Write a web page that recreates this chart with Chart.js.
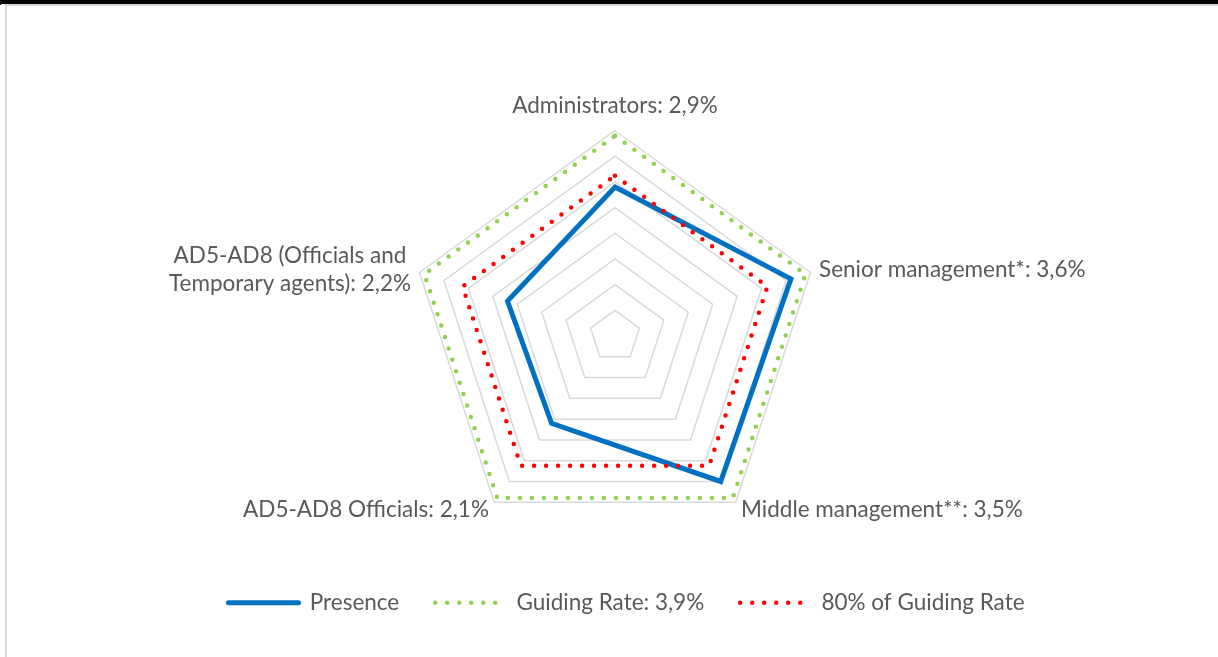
<!DOCTYPE html>
<html>
<head>
<meta charset="utf-8">
<title>Presence radar</title>
<script src="https://cdn.jsdelivr.net/npm/chart.js@4.4.1/dist/chart.umd.min.js"></script>
<style>
    html, body { margin: 0; padding: 0; background: #fff; overflow: hidden; }
    #wrap { position: relative; width: 1218px; height: 657px; overflow: hidden; }
    .frame { position: absolute; left: 5px; top: 4px; width: 1240px; height: 680px; border: 2px solid #d9d9d9; box-sizing: border-box; }
    .edge-top { position: absolute; left: 0; top: 0; width: 1218px; height: 4px; background: #000; }
    .edge-left { position: absolute; left: 0; top: 0; width: 1px; height: 5px; background: #000; }
    canvas { position: absolute; left: 0; top: 0; }
</style>
</head>
<body>
<div id="wrap">
    <div class="frame"></div>
    <div class="edge-top"></div>
    <div class="edge-left"></div>
    <canvas id="radarChart" width="1218" height="657"></canvas>
</div>
<script>
// category names, split where the label wraps; the value is appended to the last line
const categories = [
    ['Administrators'],
    ['Senior management*'],
    ['Middle management**'],
    ['AD5-AD8 Officials'],
    ['AD5-AD8 (Officials and', 'Temporary agents)']
];
const presence = [2.9, 3.6, 3.5, 2.1, 2.2];
const guidingRate = [3.9, 3.9, 3.9, 3.9, 3.9];
const guidingRate80 = [3.12, 3.12, 3.12, 3.12, 3.12];
const seriesNames = ['Presence', 'Guiding Rate: 3,9%', '80% of Guiding Rate'];
const scaleMin = 0;
const scaleMax = 4;
const scaleStep = 0.5;

// layout
const CENTER_X = 615;
const CENTER_Y = 336;
const RADIUS = 205.5;
const FONT_FAMILY = 'Lato, "Open Sans", sans-serif';
const FONT_SIZE = 22.5;
const LINE_HEIGHT = 28;
const TEXT_COLOR = '#595959';

const fmt = v => v.toFixed(1).replace('.', ',') + '%';

// draws the category labels next to each spoke
const pointLabelText = {
    id: 'pointLabelText',
    afterDraw(chart) {
        const scale = chart.scales.r;
        const ctx = chart.ctx;
        ctx.save();
        ctx.font = `${FONT_SIZE}px ${FONT_FAMILY}`;
        ctx.fillStyle = TEXT_COLOR;
        ctx.textBaseline = 'middle';
        ctx.textAlign = 'center';

        categories.forEach((cat, i) => {
            const lines = cat.slice();
            lines[lines.length - 1] += ': ' + fmt(presence[i]);
            const pos = scale.getPointPosition(i, scale.drawingArea + 9);
            const angle = scale.getIndexAngle(i);
            const blockW = Math.max(...lines.map(l => ctx.measureText(l).width));
            const blockH = lines.length * LINE_HEIGHT;

            let cx = pos.x;
            let cy = pos.y;
            const s = Math.sin(angle);
            if (s > 0.1) cx = pos.x + blockW / 2;
            else if (s < -0.1) cx = pos.x - blockW / 2;
            else cy = pos.y - 2 - blockH / 2;

            lines.forEach((line, k) => {
                ctx.fillText(line, cx, cy + (k - (lines.length - 1) / 2) * LINE_HEIGHT);
            });
        });
        ctx.restore();
    }
};

const ctx = document.getElementById('radarChart').getContext('2d');
new Chart(ctx, {
    type: 'radar',
    data: {
        labels: categories.map(c => c.join(' ')),
        datasets: [
            {
                label: seriesNames[0],
                data: presence,
                borderColor: '#0070C0',
                borderWidth: 5,
                borderCapStyle: 'round',
                order: 3
            },
            {
                label: seriesNames[1],
                data: guidingRate,
                borderColor: '#92D050',
                borderWidth: 4.5,
                borderDash: [0, 12],
                borderCapStyle: 'round',
                order: 2
            },
            {
                label: seriesNames[2],
                data: guidingRate80,
                borderColor: '#FF0000',
                borderWidth: 4.5,
                borderDash: [0, 12],
                borderCapStyle: 'round',
                order: 1
            }
        ]
    },
    options: {
        responsive: false,
        animation: false,
        events: [],
        elements: {
            line: { fill: false, tension: 0, backgroundColor: 'transparent' },
            point: { radius: 0, hitRadius: 0, hoverRadius: 0 }
        },
        layout: { padding: { left: 35, right: 0, top: 0, bottom: 33 } },
        scales: {
            r: {
                min: scaleMin,
                max: scaleMax,
                ticks: { stepSize: scaleStep, display: false },
                grid: { color: '#d9d9d9', lineWidth: 1.5 },
                angleLines: { display: false },
                pointLabels: { display: false },
                afterFit(scale) {
                    scale.xCenter = CENTER_X;
                    scale.yCenter = CENTER_Y;
                    scale.drawingArea = RADIUS;
                }
            }
        },
        plugins: {
            tooltip: { enabled: false },
            legend: {
                position: 'bottom',
                labels: {
                    usePointStyle: true,
                    pointStyleWidth: 70,
                    boxHeight: 5,
                    padding: 36,
                    color: TEXT_COLOR,
                    font: { family: FONT_FAMILY, size: FONT_SIZE },
                    generateLabels: chart => chart.data.datasets.map((ds, i) => ({
                        text: ds.label,
                        fillStyle: 'transparent',
                        strokeStyle: ds.borderColor,
                        lineWidth: ds.borderWidth,
                        lineDash: ds.borderDash || [],
                        lineCap: 'round',
                        pointStyle: 'line',
                        fontColor: TEXT_COLOR,
                        hidden: false,
                        datasetIndex: i
                    }))
                }
            }
        }
    },
    plugins: [pointLabelText]
});
</script>
</body>
</html>
